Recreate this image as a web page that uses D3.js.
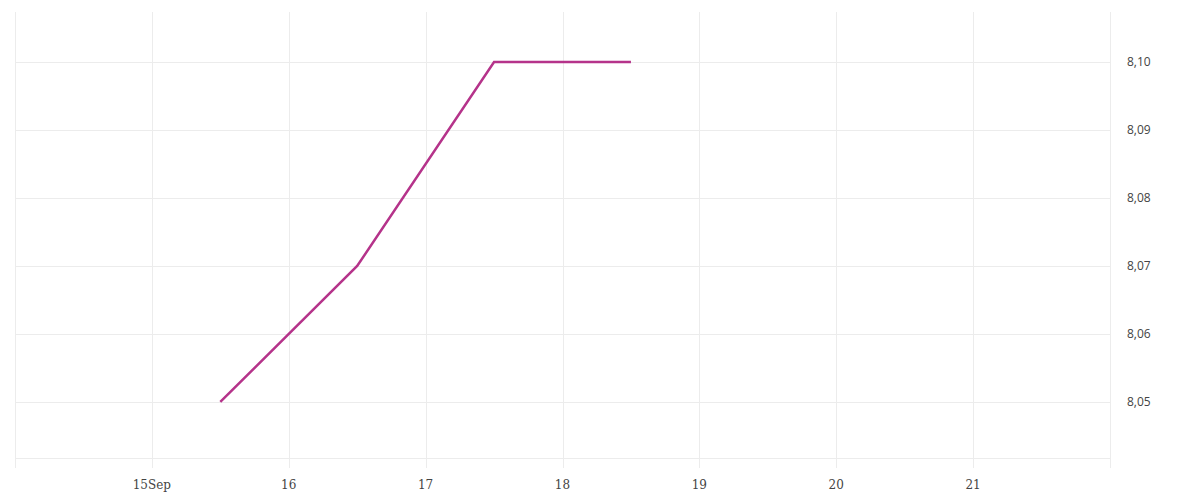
<!DOCTYPE html>
<html><head><meta charset="utf-8">
<script src="https://cdn.jsdelivr.net/npm/d3@7"></script>
<style>body{margin:0;background:#fff}svg{display:block}</style>
</head><body>
<svg id="c" width="1200" height="500"></svg>
<script>
const dates = ["2023-09-15T12:00","2023-09-16T12:00","2023-09-17T12:00","2023-09-18T12:00"];
const values = [8.05, 8.07, 8.10, 8.10];
const xTickDates = ["2023-09-14","2023-09-15","2023-09-16","2023-09-17","2023-09-18","2023-09-19","2023-09-20","2023-09-21","2023-09-22"];
const xTickLabels = ["","15Sep","16","17","18","19","20","21",""];
const yTicks = [8.05, 8.06, 8.07, 8.08, 8.09, 8.10];

const parse = d3.isoParse;
const svg = d3.select("#c");
const L = 15, R = 1110, T = 12, B = 458;
const x = d3.scaleTime().domain([parse("2023-09-14"), parse("2023-09-22")]).range([L, R]);
const y = d3.scaleLinear().domain([8.04176, 8.10735]).range([B, T]);
const grid = "#ececec";

// vertical grid lines + tick extension
svg.append("g").selectAll("line").data(xTickDates).join("line")
  .attr("x1", d => Math.round(x(parse(d))) + 0.5).attr("x2", d => Math.round(x(parse(d))) + 0.5)
  .attr("y1", T).attr("y2", B + 10).attr("stroke", grid).attr("stroke-width", 1);

// horizontal grid lines
svg.append("g").selectAll("line").data(yTicks).join("line")
  .attr("x1", L).attr("x2", R)
  .attr("y1", d => Math.round(y(d)) + 0.5).attr("y2", d => Math.round(y(d)) + 0.5)
  .attr("stroke", grid);
svg.append("line").attr("x1", L).attr("x2", R).attr("y1", B + 0.5).attr("y2", B + 0.5).attr("stroke", grid);

// x labels
svg.append("g").selectAll("text").data(xTickDates.map((d,i)=>({d, l: xTickLabels[i]})).filter(o=>o.l)).join("text")
  .attr("x", o => x(parse(o.d))).attr("y", 489)
  .attr("text-anchor", "middle")
  .attr("font-family", "'DejaVu Serif', serif").attr("font-size", 12).attr("fill", "#444")
  .text(o => o.l);

// y labels
const fmt = d => d3.format(".2f")(d).replace(".", ",");
svg.append("g").selectAll("text").data(yTicks).join("text")
  .attr("x", 1127).attr("y", d => y(d)).attr("dy", "0.35em")
  .attr("font-family", "'Open Sans', sans-serif").attr("font-size", 12).attr("fill", "#444")
  .text(fmt);

// line
const pts = dates.map((d,i)=>({d: parse(d), v: values[i]}));
svg.append("path").datum(pts)
  .attr("fill", "none").attr("stroke", "#b5338a").attr("stroke-width", 2.5)
  .attr("d", d3.line().x(p => x(p.d)).y(p => y(p.v)));
</script>
</body></html>
